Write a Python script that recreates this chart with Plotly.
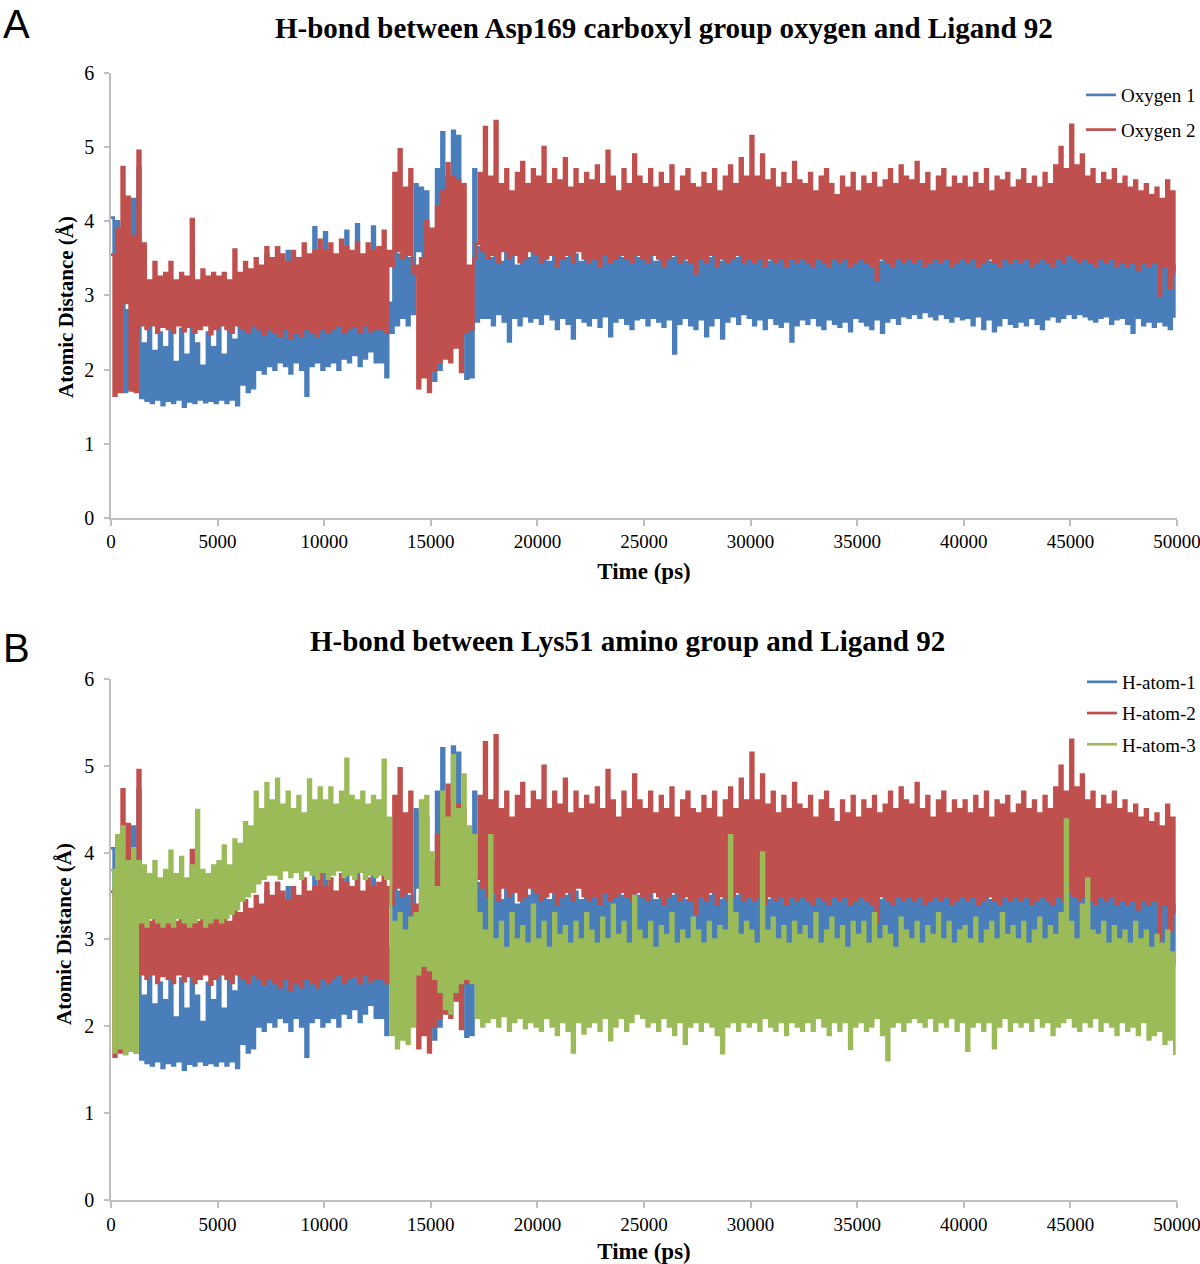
import plotly.graph_objects as go

# time axis: one sample every 125 ps (values alternate upper / lower swing of the trace)
time_ps = list(range(0, 50000, 125))

# Asp169 oxygen 1  (== Lys51 H-atom-1)
oxygen_1 = [
    4.05, 3.55, 4.0, 1.8, 2.9, 1.7, 2.8, 1.75, 4.3, 3.8, 4.72, 1.62, 2.35, 1.58, 2.6, 1.55, 2.25, 1.6, 2.5, 1.52,
    2.3, 1.58, 2.62, 1.55, 2.1, 1.6, 2.55, 1.5, 2.2, 1.57, 2.6, 1.55, 2.35, 1.6, 2.05, 1.56, 2.5, 1.58, 2.3, 1.55,
    2.62, 1.6, 2.2, 1.55, 2.55, 1.6, 2.4, 1.52, 2.6, 1.8, 2.65, 1.7, 2.6, 1.75, 2.7, 2.0, 2.65, 1.95, 3.55, 2.05,
    2.8, 2.0, 3.65, 2.1, 2.9, 2.05, 3.6, 1.95, 2.8, 2.1, 3.0, 2.0, 2.75, 1.65, 3.1, 2.05, 3.92, 2.1, 2.9, 2.0,
    3.85, 2.05, 3.0, 2.1, 2.8, 2.0, 3.2, 2.15, 3.87, 2.1, 2.9, 2.2, 3.96, 2.05, 3.1, 2.15, 2.85, 2.25, 3.93, 2.1,
    3.0, 2.1, 3.1, 1.9, 2.9, 2.5, 3.6, 2.6, 3.55, 2.7, 3.65, 2.6, 3.5, 2.75, 4.5, 3.6, 4.45, 3.2, 4.4, 2.0,
    2.3, 1.85, 4.7, 2.0, 5.2, 3.9, 4.6, 2.4, 5.22, 4.0, 5.15, 2.7, 2.6, 1.88, 2.7, 1.9, 4.7, 2.65, 3.65, 2.7,
    3.6, 2.7, 3.5, 2.6, 3.7, 2.75, 3.45, 2.65, 3.65, 2.38, 3.55, 2.7, 3.4, 2.6, 3.7, 2.72, 3.5, 2.65, 3.6, 2.7,
    3.55, 2.62, 3.7, 2.75, 3.45, 2.68, 3.6, 2.55, 3.75, 2.7, 3.5, 2.62, 3.65, 2.42, 3.55, 2.7, 3.45, 2.65, 3.7, 2.6,
    3.6, 2.7, 3.5, 2.58, 3.68, 2.72, 3.55, 2.45, 3.85, 2.65, 3.6, 2.7, 3.5, 2.62, 3.72, 2.55, 3.6, 2.68, 3.5, 2.7,
    3.65, 2.6, 3.55, 2.7, 3.45, 2.65, 3.6, 2.58, 3.7, 2.68, 3.5, 2.22, 3.6, 2.62, 3.55, 2.7, 3.45, 2.6, 3.65, 2.55,
    3.55, 2.68, 3.7, 2.45, 3.5, 2.6, 3.62, 2.7, 3.45, 2.42, 3.6, 2.65, 3.7, 2.72, 3.5, 2.62, 3.8, 2.75, 3.6, 2.7,
    3.65, 2.6, 3.5, 2.68, 3.6, 2.55, 3.45, 2.7, 3.7, 2.62, 3.55, 2.58, 3.6, 2.65, 3.5, 2.38, 3.65, 2.6, 3.55, 2.68,
    3.6, 2.62, 3.5, 2.7, 3.68, 2.6, 3.55, 2.55, 3.45, 2.68, 3.6, 2.62, 3.7, 2.58, 3.5, 2.65, 3.62, 2.52, 3.55, 2.7,
    3.6, 2.65, 3.5, 2.6, 3.7, 2.55, 3.55, 2.68, 3.45, 2.5, 3.62, 2.65, 3.5, 2.7, 3.6, 2.62, 3.68, 2.72, 3.55, 2.7,
    3.6, 2.75, 3.5, 2.7, 3.65, 2.78, 3.55, 2.72, 3.7, 2.68, 3.5, 2.75, 3.6, 2.7, 3.55, 2.65, 3.62, 2.72, 3.5, 2.68,
    3.6, 2.7, 3.55, 2.6, 3.65, 2.72, 3.5, 2.55, 3.6, 2.68, 3.45, 2.52, 3.62, 2.6, 3.55, 2.7, 3.5, 2.62, 3.65, 2.58,
    3.55, 2.65, 3.6, 2.6, 3.5, 2.7, 3.68, 2.62, 3.55, 2.55, 3.6, 2.68, 3.7, 2.72, 3.55, 2.65, 3.75, 2.7, 3.6, 2.75,
    3.65, 2.7, 3.55, 2.75, 3.6, 2.72, 3.7, 2.68, 3.55, 2.65, 3.62, 2.7, 3.5, 2.72, 3.6, 2.62, 3.55, 2.68, 3.65, 2.7,
    3.5, 2.62, 3.6, 2.5, 3.55, 2.7, 3.45, 2.6, 3.6, 2.65, 3.5, 2.58, 3.55, 2.65, 3.45, 2.6, 3.5, 2.55, 3.4, 2.7,
]

# Asp169 oxygen 2  (== Lys51 H-atom-2)
oxygen_2 = [
    3.55, 1.65, 3.9, 1.7, 4.73, 2.9, 4.33, 1.72, 3.8, 1.7, 4.95, 2.6, 3.7, 2.55, 3.2, 2.6, 3.45, 2.5, 3.25, 2.58,
    3.3, 2.55, 3.45, 2.5, 3.2, 2.6, 3.3, 2.52, 3.25, 2.58, 4.03, 2.5, 3.2, 2.55, 3.35, 2.6, 3.25, 2.48, 3.3, 2.55,
    3.25, 2.6, 3.3, 2.55, 3.2, 2.5, 3.62, 2.6, 3.3, 2.55, 3.45, 2.5, 3.35, 2.6, 3.5, 2.55, 3.4, 2.48, 3.65, 2.55,
    3.5, 2.5, 3.65, 2.45, 3.55, 2.55, 3.45, 2.42, 3.6, 2.5, 3.5, 2.45, 3.7, 2.55, 3.55, 2.5, 3.6, 2.45, 3.75, 2.55,
    3.6, 2.5, 3.7, 2.55, 3.55, 2.6, 3.75, 2.5, 3.65, 2.55, 3.6, 2.58, 3.72, 2.5, 3.55, 2.6, 3.7, 2.52, 3.6, 2.55,
    3.65, 2.55, 3.87, 2.5, 3.6, 3.4, 4.65, 3.6, 4.97, 3.5, 4.45, 3.55, 4.7, 3.3, 3.4, 1.75, 3.5, 1.9, 4.0, 1.7,
    3.9, 2.0, 4.2, 2.1, 4.4, 2.15, 4.78, 2.1, 4.6, 2.3, 4.55, 1.97, 4.5, 2.5, 3.4, 2.55, 3.5, 3.7, 4.65, 3.6,
    5.27, 3.5, 4.6, 3.55, 5.35, 3.45, 4.5, 3.6, 4.7, 3.5, 4.4, 3.55, 4.65, 3.45, 4.8, 3.5, 4.5, 3.6, 4.7, 3.55,
    4.6, 3.45, 5.0, 3.5, 4.5, 3.55, 4.7, 3.4, 4.55, 3.5, 4.85, 3.55, 4.45, 3.45, 4.7, 3.6, 4.5, 3.5, 4.65, 3.45,
    4.55, 3.5, 4.75, 3.4, 4.5, 3.55, 4.95, 3.45, 4.6, 3.5, 4.4, 3.55, 4.7, 3.5, 4.5, 3.45, 4.9, 3.55, 4.6, 3.5,
    4.5, 3.45, 4.7, 3.55, 4.45, 3.5, 4.65, 3.4, 4.5, 3.5, 4.75, 3.55, 4.4, 3.45, 4.6, 3.5, 4.7, 3.45, 4.5, 3.3,
    4.45, 3.5, 4.65, 3.45, 4.5, 3.55, 4.7, 3.4, 4.4, 3.5, 4.6, 3.45, 4.75, 3.5, 4.5, 3.55, 4.85, 3.45, 4.6, 3.5,
    5.15, 3.45, 4.6, 3.5, 4.9, 3.4, 4.55, 3.5, 4.7, 3.45, 4.45, 3.5, 4.65, 3.4, 4.5, 3.5, 4.8, 3.45, 4.55, 3.5,
    4.5, 3.45, 4.65, 3.4, 4.4, 3.5, 4.6, 3.45, 4.7, 3.4, 4.5, 3.5, 4.35, 3.45, 4.6, 3.5, 4.45, 3.4, 4.65, 3.45,
    4.4, 3.5, 4.6, 3.45, 4.5, 3.4, 4.65, 3.2, 4.45, 3.5, 4.55, 3.45, 4.7, 3.4, 4.5, 3.5, 4.75, 3.45, 4.6, 3.5,
    4.55, 3.45, 4.8, 3.5, 4.5, 3.4, 4.65, 3.45, 4.4, 3.5, 4.6, 3.45, 4.7, 3.5, 4.45, 3.4, 4.6, 3.45, 4.5, 3.5,
    4.6, 3.45, 4.45, 3.5, 4.65, 3.4, 4.5, 3.45, 4.7, 3.5, 4.4, 3.45, 4.6, 3.4, 4.55, 3.5, 4.65, 3.45, 4.45, 3.5,
    4.55, 3.45, 4.7, 3.5, 4.5, 3.4, 4.6, 3.45, 4.45, 3.5, 4.65, 3.45, 4.5, 3.4, 4.75, 3.5, 5.0, 3.45, 4.7, 3.55,
    5.3, 3.5, 4.75, 3.45, 4.9, 3.5, 4.6, 3.45, 4.7, 3.4, 4.5, 3.5, 4.65, 3.45, 4.55, 3.5, 4.7, 3.4, 4.5, 3.45,
    4.6, 3.4, 4.45, 3.45, 4.55, 3.35, 4.4, 3.45, 4.5, 3.4, 4.35, 3.45, 4.45, 3.0, 4.3, 3.4, 4.55, 3.1, 4.4, 3.3,
]

# Lys51 H-atom-3
h_atom_3 = [
    3.8, 1.7, 4.2, 1.75, 4.3, 1.68, 3.9, 1.72, 4.05, 1.7, 3.9, 3.2, 3.85, 3.15, 3.75, 3.25, 3.9, 3.2, 3.7, 3.15,
    3.8, 3.2, 4.02, 3.15, 3.75, 3.25, 3.95, 3.2, 3.7, 3.15, 3.85, 3.2, 4.49, 3.25, 3.8, 3.15, 3.75, 3.2, 3.85, 3.25,
    3.9, 3.2, 4.08, 3.25, 3.85, 3.3, 4.15, 3.35, 4.1, 3.45, 4.35, 3.5, 4.3, 3.55, 4.7, 3.65, 4.5, 3.7, 4.8, 3.75,
    4.6, 3.75, 4.85, 3.7, 4.55, 3.8, 4.7, 3.72, 4.5, 3.78, 4.65, 3.7, 4.45, 3.8, 4.84, 3.75, 4.6, 3.7, 4.75, 3.78,
    4.6, 3.7, 4.75, 3.75, 4.55, 3.8, 4.7, 3.72, 5.08, 3.75, 4.65, 3.7, 4.6, 3.78, 4.7, 3.7, 4.55, 3.75, 4.65, 3.72,
    4.6, 3.75, 5.07, 3.7, 4.4, 1.9, 3.2, 1.75, 3.3, 1.85, 3.1, 1.8, 3.25, 2.0, 3.3, 2.6, 4.6, 2.7, 4.65, 2.65,
    4.0, 2.55, 3.6, 2.4, 4.7, 2.2, 4.4, 2.15, 5.12, 2.4, 4.5, 2.5, 4.9, 2.55, 4.3, 2.5, 4.2, 2.1, 3.3, 2.0,
    3.1, 2.05, 4.2, 2.1, 3.0, 2.0, 3.2, 2.12, 2.9, 1.95, 3.3, 2.05, 3.0, 2.1, 3.15, 1.98, 2.95, 2.05, 3.4, 2.0,
    3.0, 1.95, 3.2, 2.1, 2.9, 2.0, 3.3, 1.9, 3.05, 2.05, 3.15, 1.95, 2.95, 1.7, 3.2, 2.05, 3.0, 1.92, 3.3, 2.0,
    3.1, 2.05, 2.95, 1.95, 3.25, 2.1, 3.0, 1.84, 3.4, 2.0, 3.05, 2.1, 3.2, 1.95, 2.95, 2.05, 3.5, 2.15, 3.1, 2.1,
    3.0, 2.0, 3.2, 2.05, 2.9, 1.95, 3.15, 2.1, 3.05, 2.0, 3.3, 1.9, 2.95, 2.05, 3.1, 1.8, 3.0, 2.0, 3.25, 2.05,
    3.1, 1.95, 2.95, 2.05, 3.2, 2.0, 3.0, 1.9, 3.15, 1.69, 3.1, 2.0, 4.2, 2.05, 3.3, 1.95, 3.05, 2.05, 3.2, 2.0,
    3.1, 2.05, 2.95, 1.95, 4.0, 2.1, 3.1, 2.0, 3.25, 1.95, 3.0, 2.05, 3.15, 1.9, 2.95, 2.05, 3.2, 2.0, 3.05, 1.95,
    3.15, 2.05, 3.0, 1.95, 3.3, 2.1, 2.95, 2.0, 3.1, 1.9, 3.25, 2.05, 3.0, 1.95, 3.15, 2.05, 2.9, 1.74, 3.2, 2.0,
    3.05, 2.05, 3.2, 1.95, 2.95, 2.0, 3.3, 2.1, 3.0, 1.9, 3.15, 1.61, 3.05, 2.0, 2.9, 2.05, 3.25, 1.95, 3.1, 2.05,
    3.0, 2.1, 3.2, 2.05, 2.95, 2.0, 3.15, 2.1, 3.05, 1.95, 3.3, 2.05, 3.0, 2.0, 3.2, 2.1, 2.95, 1.95, 3.1, 2.05,
    3.15, 1.72, 3.0, 2.0, 3.25, 2.05, 2.95, 1.95, 3.1, 2.05, 3.2, 1.75, 3.0, 2.0, 3.3, 2.1, 3.05, 1.95, 3.15, 2.05,
    3.0, 2.0, 3.2, 2.05, 2.95, 1.95, 3.1, 2.1, 3.25, 2.0, 3.0, 2.05, 3.15, 1.9, 3.05, 2.0, 3.3, 2.05, 4.38, 2.1,
    3.2, 2.0, 3.0, 1.95, 3.4, 2.05, 3.7, 2.0, 3.1, 2.1, 3.05, 1.95, 3.2, 2.05, 2.95, 2.0, 3.15, 1.9, 3.0, 2.05,
    3.1, 1.95, 2.95, 2.0, 3.2, 1.9, 3.0, 2.05, 3.1, 1.85, 2.9, 1.9, 3.05, 1.95, 2.95, 1.8, 3.1, 1.85, 2.85, 1.67,
]

BLUE = '#4a7ebb'
RED = '#c0504d'
GREEN = '#9bbb59'
SERIF = 'Liberation Serif'
AXIS_GREY = '#bfbfbf'
LINE_W = 2.7

fig = go.Figure()

# panel A
for name, vals, col, grp in [('Oxygen 1', oxygen_1, BLUE, 'a1'), ('Oxygen 2', oxygen_2, RED, 'a2')]:
    fig.add_trace(go.Scatter(
        x=time_ps, y=vals, mode='lines', name=name,
        line=dict(color=col, width=LINE_W, shape='hv'),
        xaxis='x', yaxis='y', legend='legend', legendgroup=grp,
    ))

# panel B
for name, vals, col, grp in [('H-atom-1', oxygen_1, BLUE, 'b1'), ('H-atom-2', oxygen_2, RED, 'b2'),
                             ('H-atom-3', h_atom_3, GREEN, 'b3')]:
    fig.add_trace(go.Scatter(
        x=time_ps, y=vals, mode='lines', name=name,
        line=dict(color=col, width=LINE_W, shape='hv'),
        xaxis='x2', yaxis='y2', legend='legend2', legendgroup=grp,
    ))

xaxis_style = dict(
    range=[0, 50000], dtick=5000, tickformat='d', showgrid=False, zeroline=False,
    showline=True, linecolor=AXIS_GREY, linewidth=1.5, automargin=False,
    ticks='outside', ticklen=6, tickcolor=AXIS_GREY, tickwidth=1.5, ticklabelstandoff=0,
    ticklabeloverflow='allow',
    tickfont=dict(family=SERIF, size=19, color='black'),
    title=dict(text='Time (ps)', font=dict(family=SERIF, size=23, color='black', weight='bold'), standoff=11),
)
yaxis_style = dict(
    range=[0, 6], dtick=1, showgrid=False, zeroline=False,
    showline=True, linecolor=AXIS_GREY, linewidth=1.5, automargin=False,
    ticks='outside', ticklen=5, tickcolor=AXIS_GREY, tickwidth=1.5, ticklabelstandoff=6,
    tickfont=dict(family=SERIF, size=20, color='black'),
)

legend_style = dict(
    xanchor='right', x=1.0225, yanchor='top', bgcolor='rgba(0,0,0,0)',
    font=dict(family=SERIF, size=19, color='black'), traceorder='grouped',
)

ytitle_font = dict(family=SERIF, size=21, color='black', weight='bold')
title_font = dict(family=SERIF, size=29, color='black', weight='bold')
letter_font = dict(family='Liberation Sans', size=40, color='black')

fig.update_layout(
    width=1200, height=1264,
    margin=dict(l=111, r=23, t=73, b=64, autoexpand=False),
    paper_bgcolor='white', plot_bgcolor='white',
    showlegend=True,
    xaxis=dict(xaxis_style, domain=[0, 1], anchor='y'),
    yaxis=dict(yaxis_style, domain=[0.6052, 1], anchor='x'),
    xaxis2=dict(xaxis_style, domain=[0, 1], anchor='y2'),
    yaxis2=dict(yaxis_style, domain=[0, 0.4623], anchor='x2'),
    legend=dict(legend_style, y=0.9973, tracegroupgap=7),
    legend2=dict(legend_style, y=0.4765, tracegroupgap=3.5),
    annotations=[
        dict(text='H-bond between Asp169 carboxyl group oxygen and Ligand 92', xref='paper', yref='paper',
             x=0.5188, y=1.040, xanchor='center', yanchor='middle', showarrow=False, font=title_font),
        dict(text='H-bond between Lys51 amino group and Ligand 92', xref='paper', yref='paper',
             x=0.4845, y=0.496, xanchor='center', yanchor='middle', showarrow=False, font=title_font),
        dict(text='Atomic Distance (Å)', xref='paper', yref='paper', textangle=-90,
             x=-0.0422, y=0.7924, xanchor='center', yanchor='middle', showarrow=False, font=ytitle_font),
        dict(text='Atomic Distance (Å)', xref='paper', yref='paper', textangle=-90,
             x=-0.0441, y=0.2360, xanchor='center', yanchor='middle', showarrow=False, font=ytitle_font),
        dict(text='A', xref='paper', yref='paper', x=-0.1029, y=1.0648, xanchor='left', yanchor='top',
             showarrow=False, font=letter_font),
        dict(text='B', xref='paper', yref='paper', x=-0.1029, y=0.4898, xanchor='left', yanchor='middle',
             showarrow=False, font=letter_font),
    ],
)

# drop the page's default 8 px body margin so the 1200x1264 figure fills the window exactly
fig.write_html('out.html', config={'displayModeBar': False},
               post_script="document.body.style.margin = '0px';")
